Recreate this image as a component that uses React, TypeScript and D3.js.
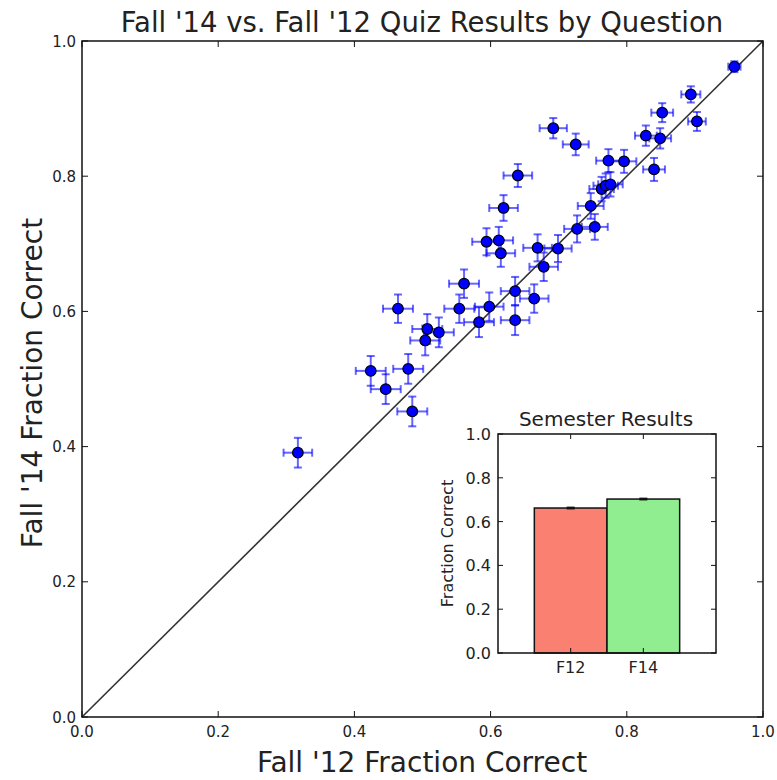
import React from "react";
import * as d3 from "d3";

// Per-question fraction correct, Fall '12 (x) vs Fall '14 (y), with standard errors
const f12Scores = [0.317, 0.424, 0.446, 0.479, 0.485, 0.464, 0.504, 0.507, 0.524, 0.554, 0.561, 0.583, 0.598, 0.594, 0.612, 0.615, 0.636, 0.636, 0.664, 0.669, 0.678, 0.699, 0.619, 0.64, 0.692, 0.725, 0.727, 0.753, 0.747, 0.763, 0.769, 0.776, 0.773, 0.796, 0.84, 0.828, 0.849, 0.852, 0.894, 0.903, 0.958];
const f14Scores = [0.391, 0.512, 0.485, 0.515, 0.452, 0.604, 0.557, 0.574, 0.569, 0.604, 0.641, 0.584, 0.607, 0.703, 0.705, 0.686, 0.63, 0.587, 0.619, 0.694, 0.666, 0.693, 0.753, 0.801, 0.871, 0.847, 0.722, 0.725, 0.756, 0.781, 0.786, 0.788, 0.823, 0.822, 0.81, 0.86, 0.856, 0.894, 0.921, 0.881, 0.962];
const f12Errors = [0.021, 0.022, 0.022, 0.022, 0.022, 0.022, 0.022, 0.022, 0.022, 0.022, 0.022, 0.022, 0.021, 0.021, 0.021, 0.021, 0.021, 0.021, 0.021, 0.021, 0.021, 0.02, 0.021, 0.021, 0.02, 0.019, 0.019, 0.019, 0.019, 0.018, 0.018, 0.018, 0.018, 0.018, 0.016, 0.016, 0.016, 0.016, 0.014, 0.013, 0.009];
const f14Errors = [0.022, 0.022, 0.022, 0.022, 0.022, 0.021, 0.022, 0.022, 0.022, 0.021, 0.021, 0.022, 0.021, 0.02, 0.02, 0.02, 0.021, 0.022, 0.021, 0.02, 0.021, 0.02, 0.019, 0.017, 0.015, 0.016, 0.02, 0.019, 0.019, 0.018, 0.018, 0.018, 0.017, 0.017, 0.017, 0.015, 0.015, 0.014, 0.012, 0.014, 0.008];

// Semester totals for the inset bar chart
const semesters = ["F12", "F14"];
const semesterMeans = [0.662, 0.703];
const semesterErrors = [0.003, 0.003];
const semesterColors = ["#fa8072", "#90ee90"];

const mainTicks = [0, 0.2, 0.4, 0.6, 0.8, 1.0];
const insetTicks = [0, 0.2, 0.4, 0.6, 0.8, 1.0];

const FONT = "'DejaVu Sans', sans-serif";
const TEXT = "#222";

export default function App() {
  // Main scatter axes
  const x = d3.scaleLinear().domain([0, 1]).range([82, 763]);
  const y = d3.scaleLinear().domain([0, 1]).range([717, 41]);

  // Inset axes
  const ix = d3.scaleLinear().domain([-1, 2]).range([498, 716]);
  const iy = d3.scaleLinear().domain([0, 1]).range([653, 434]);

  const fmt = d3.format(".1f");
  const tickLen = 6;
  const cap = 4;
  const points = f12Scores.map((v, i) => ({ x: v, y: f14Scores[i], ex: f12Errors[i], ey: f14Errors[i] }));
  const diag = d3.line<number>().x((d) => x(d)).y((d) => y(d));

  return (
    <svg width={777} height={780} style={{ position: "absolute", left: 0, top: 0, background: "#fff" }} fontFamily={FONT}>
      <rect x={0} y={0} width={777} height={780} fill="#fff" />

      {/* title */}
      <text x={422} y={32} textAnchor="middle" fontSize={27.5} fill={TEXT}>
        Fall '14 vs. Fall '12 Quiz Results by Question
      </text>

      {/* identity line */}
      <path d={diag([0, 1]) || ""} stroke="#333" strokeWidth={1.6} fill="none" />

      {/* error bars */}
      <g stroke="#0000ff" strokeOpacity={0.6} strokeWidth={2} fill="none">
        {points.map((p, i) => (
          <g key={i}>
            <line x1={x(p.x - p.ex)} x2={x(p.x + p.ex)} y1={y(p.y)} y2={y(p.y)} />
            <line x1={x(p.x - p.ex)} x2={x(p.x - p.ex)} y1={y(p.y) - cap} y2={y(p.y) + cap} />
            <line x1={x(p.x + p.ex)} x2={x(p.x + p.ex)} y1={y(p.y) - cap} y2={y(p.y) + cap} />
            <line x1={x(p.x)} x2={x(p.x)} y1={y(p.y - p.ey)} y2={y(p.y + p.ey)} />
            <line x1={x(p.x) - cap} x2={x(p.x) + cap} y1={y(p.y - p.ey)} y2={y(p.y - p.ey)} />
            <line x1={x(p.x) - cap} x2={x(p.x) + cap} y1={y(p.y + p.ey)} y2={y(p.y + p.ey)} />
          </g>
        ))}
      </g>

      {/* markers */}
      <g>
        {points.map((p, i) => (
          <circle key={i} cx={x(p.x)} cy={y(p.y)} r={5.3} fill="#0000ff" stroke="#000" strokeWidth={1.2} />
        ))}
      </g>

      {/* main frame and ticks */}
      <rect x={x(0)} y={y(1)} width={x(1) - x(0)} height={y(0) - y(1)} fill="none" stroke="#111" strokeWidth={1.5} />
      <g stroke="#111" strokeWidth={1}>
        {mainTicks.map((t) => (
          <g key={t}>
            <line x1={x(t)} x2={x(t)} y1={y(0)} y2={y(0) - tickLen} />
            <line x1={x(t)} x2={x(t)} y1={y(1)} y2={y(1) + tickLen} />
            <line x1={x(0)} x2={x(0) + tickLen} y1={y(t)} y2={y(t)} />
            <line x1={x(1)} x2={x(1) - tickLen} y1={y(t)} y2={y(t)} />
          </g>
        ))}
      </g>
      <g fontSize={15} fill={TEXT}>
        {mainTicks.map((t) => (
          <text key={"x" + t} x={x(t)} y={y(0) + 20} textAnchor="middle">
            {fmt(t)}
          </text>
        ))}
        {mainTicks.map((t) => (
          <text key={"y" + t} x={x(0) - 6} y={y(t) + 5.5} textAnchor="end">
            {fmt(t)}
          </text>
        ))}
      </g>

      {/* axis labels */}
      <text x={422} y={772} textAnchor="middle" fontSize={28} fill={TEXT}>
        Fall '12 Fraction Correct
      </text>
      <text transform={`translate(42,${(y(0) + y(1)) / 2 + 4}) rotate(-90)`} textAnchor="middle" fontSize={28} fill={TEXT}>
        Fall '14 Fraction Correct
      </text>

      {/* inset bar chart */}
      <g>
        <rect x={ix(-1)} y={iy(1)} width={ix(2) - ix(-1)} height={iy(0) - iy(1)} fill="#fff" />
        {semesters.map((s, i) => (
          <rect
            key={s}
            x={ix(i - 0.5)}
            y={iy(semesterMeans[i])}
            width={ix(i + 0.5) - ix(i - 0.5)}
            height={iy(0) - iy(semesterMeans[i])}
            fill={semesterColors[i]}
            stroke="#111"
            strokeWidth={1.5}
          />
        ))}
        {semesters.map((s, i) => (
          <g key={"e" + s} stroke="#111" strokeWidth={1.5}>
            <line x1={ix(i)} x2={ix(i)} y1={iy(semesterMeans[i] - semesterErrors[i])} y2={iy(semesterMeans[i] + semesterErrors[i])} />
            <line x1={ix(i) - 4} x2={ix(i) + 4} y1={iy(semesterMeans[i] + semesterErrors[i])} y2={iy(semesterMeans[i] + semesterErrors[i])} />
            <line x1={ix(i) - 4} x2={ix(i) + 4} y1={iy(semesterMeans[i] - semesterErrors[i])} y2={iy(semesterMeans[i] - semesterErrors[i])} />
          </g>
        ))}
        <rect x={ix(-1)} y={iy(1)} width={ix(2) - ix(-1)} height={iy(0) - iy(1)} fill="none" stroke="#111" strokeWidth={1.5} />
        <g stroke="#111" strokeWidth={1}>
          {insetTicks.map((t) => (
            <g key={t}>
              <line x1={ix(-1)} x2={ix(-1) + 5} y1={iy(t)} y2={iy(t)} />
              <line x1={ix(2)} x2={ix(2) - 5} y1={iy(t)} y2={iy(t)} />
            </g>
          ))}
          {semesters.map((s, i) => (
            <g key={s}>
              <line x1={ix(i)} x2={ix(i)} y1={iy(0)} y2={iy(0) - 5} />
              <line x1={ix(i)} x2={ix(i)} y1={iy(1)} y2={iy(1) + 5} />
            </g>
          ))}
        </g>
        <g fontSize={16} fill={TEXT}>
          {insetTicks.map((t) => (
            <text key={t} x={ix(-1) - 7} y={iy(t) + 6} textAnchor="end">
              {fmt(t)}
            </text>
          ))}
          {semesters.map((s, i) => (
            <text key={s} x={ix(i)} y={iy(0) + 20} textAnchor="middle">
              {s}
            </text>
          ))}
        </g>
        <text x={(ix(-1) + ix(2)) / 2 - 1} y={426} textAnchor="middle" fontSize={20} fill={TEXT}>
          Semester Results
        </text>
        <text transform={`translate(453,${(iy(0) + iy(1)) / 2}) rotate(-90)`} textAnchor="middle" fontSize={16} fill={TEXT}>
          Fraction Correct
        </text>
      </g>
    </svg>
  );
}
